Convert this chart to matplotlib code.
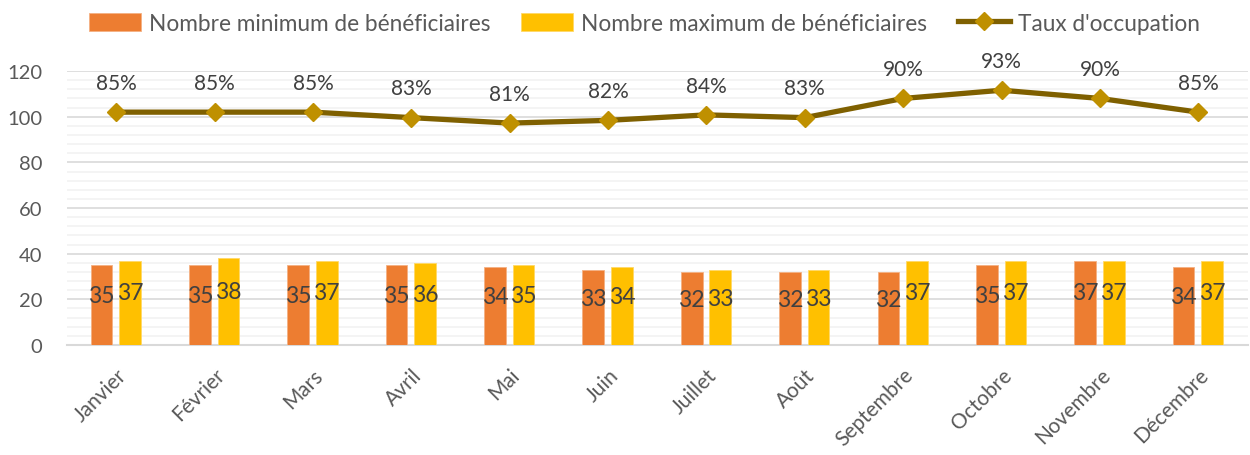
import numpy as np
import matplotlib.pyplot as plt
from matplotlib.ticker import MultipleLocator

# Data
MONTHS = ["Janvier", "Février", "Mars", "Avril", "Mai", "Juin", "Juillet",
          "Août", "Septembre", "Octobre", "Novembre", "Décembre"]
MIN_BENEF = [35, 35, 35, 35, 34, 33, 32, 32, 32, 35, 37, 34]
MAX_BENEF = [37, 38, 37, 36, 35, 34, 33, 33, 37, 37, 37, 37]
TAUX = [0.85, 0.85, 0.85, 0.83, 0.81, 0.82, 0.84, 0.83, 0.90, 0.93, 0.90, 0.85]

ORANGE = "#ED7D31"
YELLOW = "#FFC000"
LINE = "#7F6000"
MARKER = "#BF9000"
GREY = "#595959"
LABEL = "#404040"

plt.rcParams["font.family"] = ["Lato", "DejaVu Sans"]
plt.rcParams["ytick.major.pad"] = 18
plt.rcParams["xtick.major.pad"] = 14
plt.rcParams["ytick.major.size"] = 0
plt.rcParams["ytick.minor.size"] = 0
plt.rcParams["xtick.major.size"] = 0

fig = plt.figure(figsize=(12.5, 4.56), dpi=100)
ax = fig.add_axes([0.0536, 0.2412, 0.9444, 0.6008])
# occupancy on secondary scale (0..1 matched to 0..120)
ax2 = ax.twinx()
x = np.arange(len(MONTHS))
w = 0.22

b1 = ax.bar(x - 0.15, MIN_BENEF, w, color=ORANGE, edgecolor="#F4B183", linewidth=0.6,
            label="Nombre minimum de bénéficiaires", zorder=3)
b2 = ax.bar(x + 0.14, MAX_BENEF, w, color=YELLOW, edgecolor="#FFD966", linewidth=0.6,
            label="Nombre maximum de bénéficiaires", zorder=3)

for bars in (b1, b2):
    for rect in bars:
        h = rect.get_height()
        ax.text(rect.get_x() + rect.get_width() / 2, h * 0.62, f"{h:.0f}",
                ha="center", va="center", fontsize=16.5, color=LABEL, zorder=4)

ax.set_xlim(-0.5, len(MONTHS) - 0.5)
ax.set_ylim(0, 120)
ax.yaxis.set_major_locator(MultipleLocator(20))
ax.yaxis.set_minor_locator(MultipleLocator(4))
ax.grid(axis="y", which="major", color="#D9D9D9", linewidth=1.2, zorder=0)
ax.grid(axis="y", which="minor", color="#F2F2F2", linewidth=1.2, zorder=0)
ax.set_axisbelow(True)
for s in ["top", "right", "left"]:
    ax.spines[s].set_visible(False)
ax.spines["bottom"].set_color("#D9D9D9")
ax.spines["bottom"].set_linewidth(1.5)
ax.set_xticks(x)
ax.set_xticklabels(MONTHS, rotation=45, ha="right", rotation_mode="anchor")

ax2.set_ylim(0, 1)
ln, = ax2.plot(x, TAUX, color=LINE, linewidth=3.8, marker="D", markersize=9,
               markerfacecolor=MARKER, markeredgecolor=MARKER,
               label="Taux d'occupation", zorder=5)
for xi, t in zip(x, TAUX):
    ax2.annotate(f"{t:.0%}", (xi, t), xytext=(0, 21), textcoords="offset points",
                 ha="center", va="center", fontsize=15, color=LABEL)
ax2.set_yticks([])
for s in ax2.spines.values():
    s.set_visible(False)

ax.tick_params(axis="y", which="major", labelsize=14.5, labelcolor=GREY)
ax.tick_params(axis="x", labelsize=15, labelcolor=GREY)

handles = [b1, b2, ln]
fig.legend(handles, [h.get_label() for h in handles], loc="upper center",
           bbox_to_anchor=(0.5156, 1.015), ncol=3, frameon=False, fontsize=16.3,
           labelcolor=GREY, handlelength=2.3, handleheight=0.9,
           handletextpad=0.36, columnspacing=1.35)

fig.savefig("out.png", dpi=100)
